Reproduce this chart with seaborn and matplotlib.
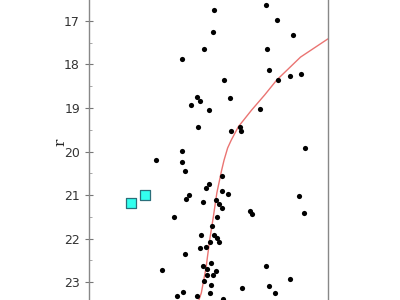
import matplotlib
matplotlib.use("Agg")
import matplotlib.pyplot as plt
import seaborn as sns
import pandas as pd
from matplotlib.ticker import MultipleLocator

# star colours (g - r) and magnitudes (r)
star_color = [0.55, 0.98, 1.07, 0.54, 1.21, 0.46, 0.99, 0.28, 1.01, 0.63,
              1.08, 1.18, 1.27, 0.40, 0.68, 0.43, 0.35, 0.50, 0.93, 0.41,
              0.76, 0.77, 0.69, 1.31, 0.28, 0.06, 0.28, 0.30, 0.61, 0.50,
              0.48, 0.61, 0.66, 0.34, 0.31, 1.26, 0.56, 0.45, 0.59, 0.61,
              0.85, 0.86, 1.30, 0.21, 0.57, 0.53, 0.44, 0.55, 0.57, 0.51,
              0.59, 0.43, 0.48, 0.30, 0.45, 0.52, 0.98, 0.11, 0.49, 0.56,
              0.49, 0.54, 0.46, 1.18, 0.52, 0.78, 1.01, 0.29, 0.51, 1.06,
              0.24, 0.40, 0.62]
star_r = [16.75, 16.63, 16.97, 17.26, 17.32, 17.65, 17.64, 17.87, 18.12, 18.35,
          18.36, 18.26, 18.23, 18.74, 18.77, 18.85, 18.92, 19.05, 19.03, 19.44,
          19.43, 19.52, 19.52, 19.91, 19.99, 20.20, 20.23, 20.45, 20.57, 20.74,
          20.83, 20.90, 20.97, 20.99, 21.10, 21.02, 21.12, 21.16, 21.20, 21.31,
          21.37, 21.43, 21.42, 21.50, 21.51, 21.71, 21.93, 21.92, 21.99, 22.09,
          22.08, 22.21, 22.20, 22.36, 22.63, 22.57, 22.64, 22.72, 22.71, 22.74,
          22.83, 22.85, 22.97, 22.92, 23.06, 23.14, 23.09, 23.23, 23.26, 23.26,
          23.33, 23.32, 23.39]

# highlighted objects
special_color = [-0.15, -0.03]
special_r = [21.18, 21.01]

# isochrone
iso_color = [1.50, 1.27, 1.07, 0.97, 0.86, 0.75, 0.69, 0.66, 0.63, 0.61,
             0.57, 0.54, 0.51, 0.48, 0.44, 0.42]
iso_r = [17.41, 17.83, 18.36, 18.70, 19.05, 19.43, 19.74, 19.92, 20.20, 20.43,
         20.95, 21.51, 22.03, 22.66, 23.25, 23.41]

yticks = [17, 18, 19, 20, 21, 22, 23]

sns.set_style("white")

fig = plt.figure(figsize=(4, 3), dpi=100)
ax = fig.add_axes([89 / 400, -0.1, (328 - 89) / 400, 1.2])

stars = pd.DataFrame({"g-r": star_color, "r": star_r})
special = pd.DataFrame({"g-r": special_color, "r": special_r})
iso = pd.DataFrame({"g-r": iso_color, "r": iso_r})

sns.lineplot(data=iso, x="g-r", y="r", sort=False, ax=ax,
             color="#ea7472", linewidth=1.0, zorder=2)
sns.scatterplot(data=stars, x="g-r", y="r", ax=ax, color="black",
                s=14, linewidth=0, zorder=3)
sns.scatterplot(data=special, x="g-r", y="r", ax=ax, marker="s",
                color="#33ffee", edgecolor="#2a6f7a", linewidth=0.9,
                s=42, zorder=4)

ax.set_xlim(-0.5, 1.5)
ax.set_ylim(24.103, 15.828)
ax.set_yticks(yticks)
ax.set_yticklabels([str(t) for t in yticks])
ax.yaxis.set_minor_locator(MultipleLocator(0.5))
ax.set_xticks([])
ax.set_xlabel("")
ax.set_ylabel("r", family="DejaVu Serif", fontsize=11)
ax.yaxis.set_label_coords(-0.09, 0.52)

ax.tick_params(axis="y", which="major", direction="inout", length=6,
               width=0.8, color="#777777", labelsize=9, labelcolor="#333333",
               left=True)
ax.tick_params(axis="y", which="minor", direction="in", length=2.5,
               width=0.6, color="#999999", left=True)

for side in ["left", "right", "top", "bottom"]:
    ax.spines[side].set_color("#888888")
    ax.spines[side].set_linewidth(1.0)

fig.savefig("out.png", dpi=100)
